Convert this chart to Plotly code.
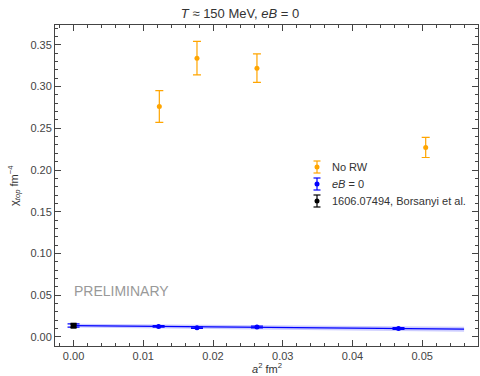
import plotly.graph_objects as go

# No RW (orange)
norw_x = [0.0123, 0.0177, 0.0263, 0.0505]
norw_y = [0.276, 0.334, 0.322, 0.227]
norw_err = [0.019, 0.020, 0.017, 0.012]

# eB = 0 (blue)
eb_x = [0.0, 0.0122, 0.0177, 0.0263, 0.0466]
eb_y = [0.0137, 0.0127, 0.0112, 0.0119, 0.0101]
eb_err = [0.0020, 0.0010, 0.0010, 0.0010, 0.0010]

# continuum fit band (blue)
fit_x = [0.0, 0.056]
fit_y = [0.0137, 0.0094]
fit_err = [0.0022, 0.0030]

# Borsanyi et al. (black)
bor_x = [0.0]
bor_y = [0.0135]
bor_err = [0.0020]

legend_labels = ["No RW", "<i>eB</i> = 0", "1606.07494, Borsanyi et al."]

ORANGE = "#FFA500"
BLUE = "#0000FF"
FONT = "Liberation Sans"
TXT = "#333333"

# plot area in pixels
L, R, T, B = 55, 478, 25, 346
W, H = R - L, B - T


def px(xp):
    return (xp - L) / W


def py(yp):
    return (B - yp) / H


fig = go.Figure()

# fit band
fig.add_trace(go.Scatter(x=fit_x, y=[y + e for y, e in zip(fit_y, fit_err)], mode="lines",
                         line=dict(width=0), showlegend=False, hoverinfo="skip"))
fig.add_trace(go.Scatter(x=fit_x, y=[y - e for y, e in zip(fit_y, fit_err)], mode="lines",
                         line=dict(width=0), fill="tonexty", fillcolor="rgba(0,0,255,0.2)",
                         showlegend=False, hoverinfo="skip"))
fig.add_trace(go.Scatter(x=fit_x, y=fit_y, mode="lines", line=dict(color=BLUE, width=1.2),
                         showlegend=False, hoverinfo="skip"))

fig.add_trace(go.Scatter(x=norw_x, y=norw_y, mode="markers", name=legend_labels[0],
                         marker=dict(color=ORANGE, size=5), showlegend=False,
                         error_y=dict(type="data", array=norw_err, color=ORANGE, thickness=1.2, width=4)))
fig.add_trace(go.Scatter(x=eb_x, y=eb_y, mode="markers", name=legend_labels[1],
                         marker=dict(color=BLUE, size=5), showlegend=False,
                         error_y=dict(type="data", array=eb_err, color=BLUE, thickness=1.2, width=6)))
fig.add_trace(go.Scatter(x=bor_x, y=bor_y, mode="markers", name=legend_labels[2],
                         marker=dict(color="black", size=6, symbol="square"), showlegend=False,
                         error_y=dict(type="data", array=bor_err, color="black", thickness=1.2, width=3)))

axcommon = dict(showgrid=False, zeroline=False, showline=True, linecolor="#444", linewidth=1,
                mirror="allticks", ticks="inside", ticklen=6, tickwidth=1, tickcolor="#444",
                tickfont=dict(family=FONT, size=11, color="#444"))

fig.update_xaxes(range=[-0.00266, 0.0580], dtick=0.01, tickformat=".2f",
                 minor=dict(dtick=0.002, ticks="inside", ticklen=3, tickcolor="#444"),
                 **axcommon)
fig.update_yaxes(range=[-0.0108, 0.3737], dtick=0.05, tickformat=".2f",
                 minor=dict(dtick=0.01, ticks="inside", ticklen=3, tickcolor="#444"),
                 **axcommon)

annotations = []
shapes = []
# axis titles
annotations.append(dict(text="<i>a</i><sup>2</sup> fm<sup>2</sup>", xref="paper", yref="paper",
                        x=0.5, y=py(368), xanchor="center", yanchor="middle", showarrow=False,
                        font=dict(family=FONT, size=11, color=TXT)))
annotations.append(dict(text="χ<sub><i>top</i></sub> fm<sup>−4</sup>", xref="paper", yref="paper",
                        x=px(14), y=py(186), xanchor="center", yanchor="middle", showarrow=False,
                        textangle=-90, font=dict(family=FONT, size=11, color=TXT)))
annotations.append(dict(text="PRELIMINARY", xref="paper", yref="paper", x=px(72), y=py(291),
                        xanchor="left", yanchor="middle", showarrow=False,
                        font=dict(family=FONT, size=14, color="#999999")))

# manual legend with error-bar icons
leg_colors = [ORANGE, BLUE, "black"]
leg_rows = [167, 184, 201]
for lab, col, yr in zip(legend_labels, leg_colors, leg_rows):
    xc = 317
    shapes.append(dict(type="line", xref="paper", yref="paper", x0=px(xc), x1=px(xc),
                       y0=py(yr - 6), y1=py(yr + 6), line=dict(color=col, width=1.2)))
    for yy in (yr - 6, yr + 6):
        shapes.append(dict(type="line", xref="paper", yref="paper", x0=px(xc - 3.5), x1=px(xc + 3.5),
                           y0=py(yy), y1=py(yy), line=dict(color=col, width=1.2)))
    shapes.append(dict(type="circle", xref="paper", yref="paper", x0=px(xc - 2.5), x1=px(xc + 2.5),
                       y0=py(yr - 2.5), y1=py(yr + 2.5), line=dict(color=col, width=0), fillcolor=col))
    annotations.append(dict(text=lab, xref="paper", yref="paper", x=px(330), y=py(yr),
                            xanchor="left", yanchor="middle", showarrow=False,
                            font=dict(family=FONT, size=11, color=TXT)))

fig.update_layout(
    width=480, height=376,
    margin=dict(l=L, r=480 - R, t=T, b=376 - B),
    paper_bgcolor="white", plot_bgcolor="white",
    title=dict(text="<i>T</i> ≈ 150 MeV, <i>eB</i> = 0", x=0.5, xanchor="center", y=1 - 13 / 376,
               yanchor="middle", font=dict(family=FONT, size=13, color=TXT)),
    showlegend=False,
    annotations=annotations,
    shapes=shapes,
)

fig.write_html("out.html")
